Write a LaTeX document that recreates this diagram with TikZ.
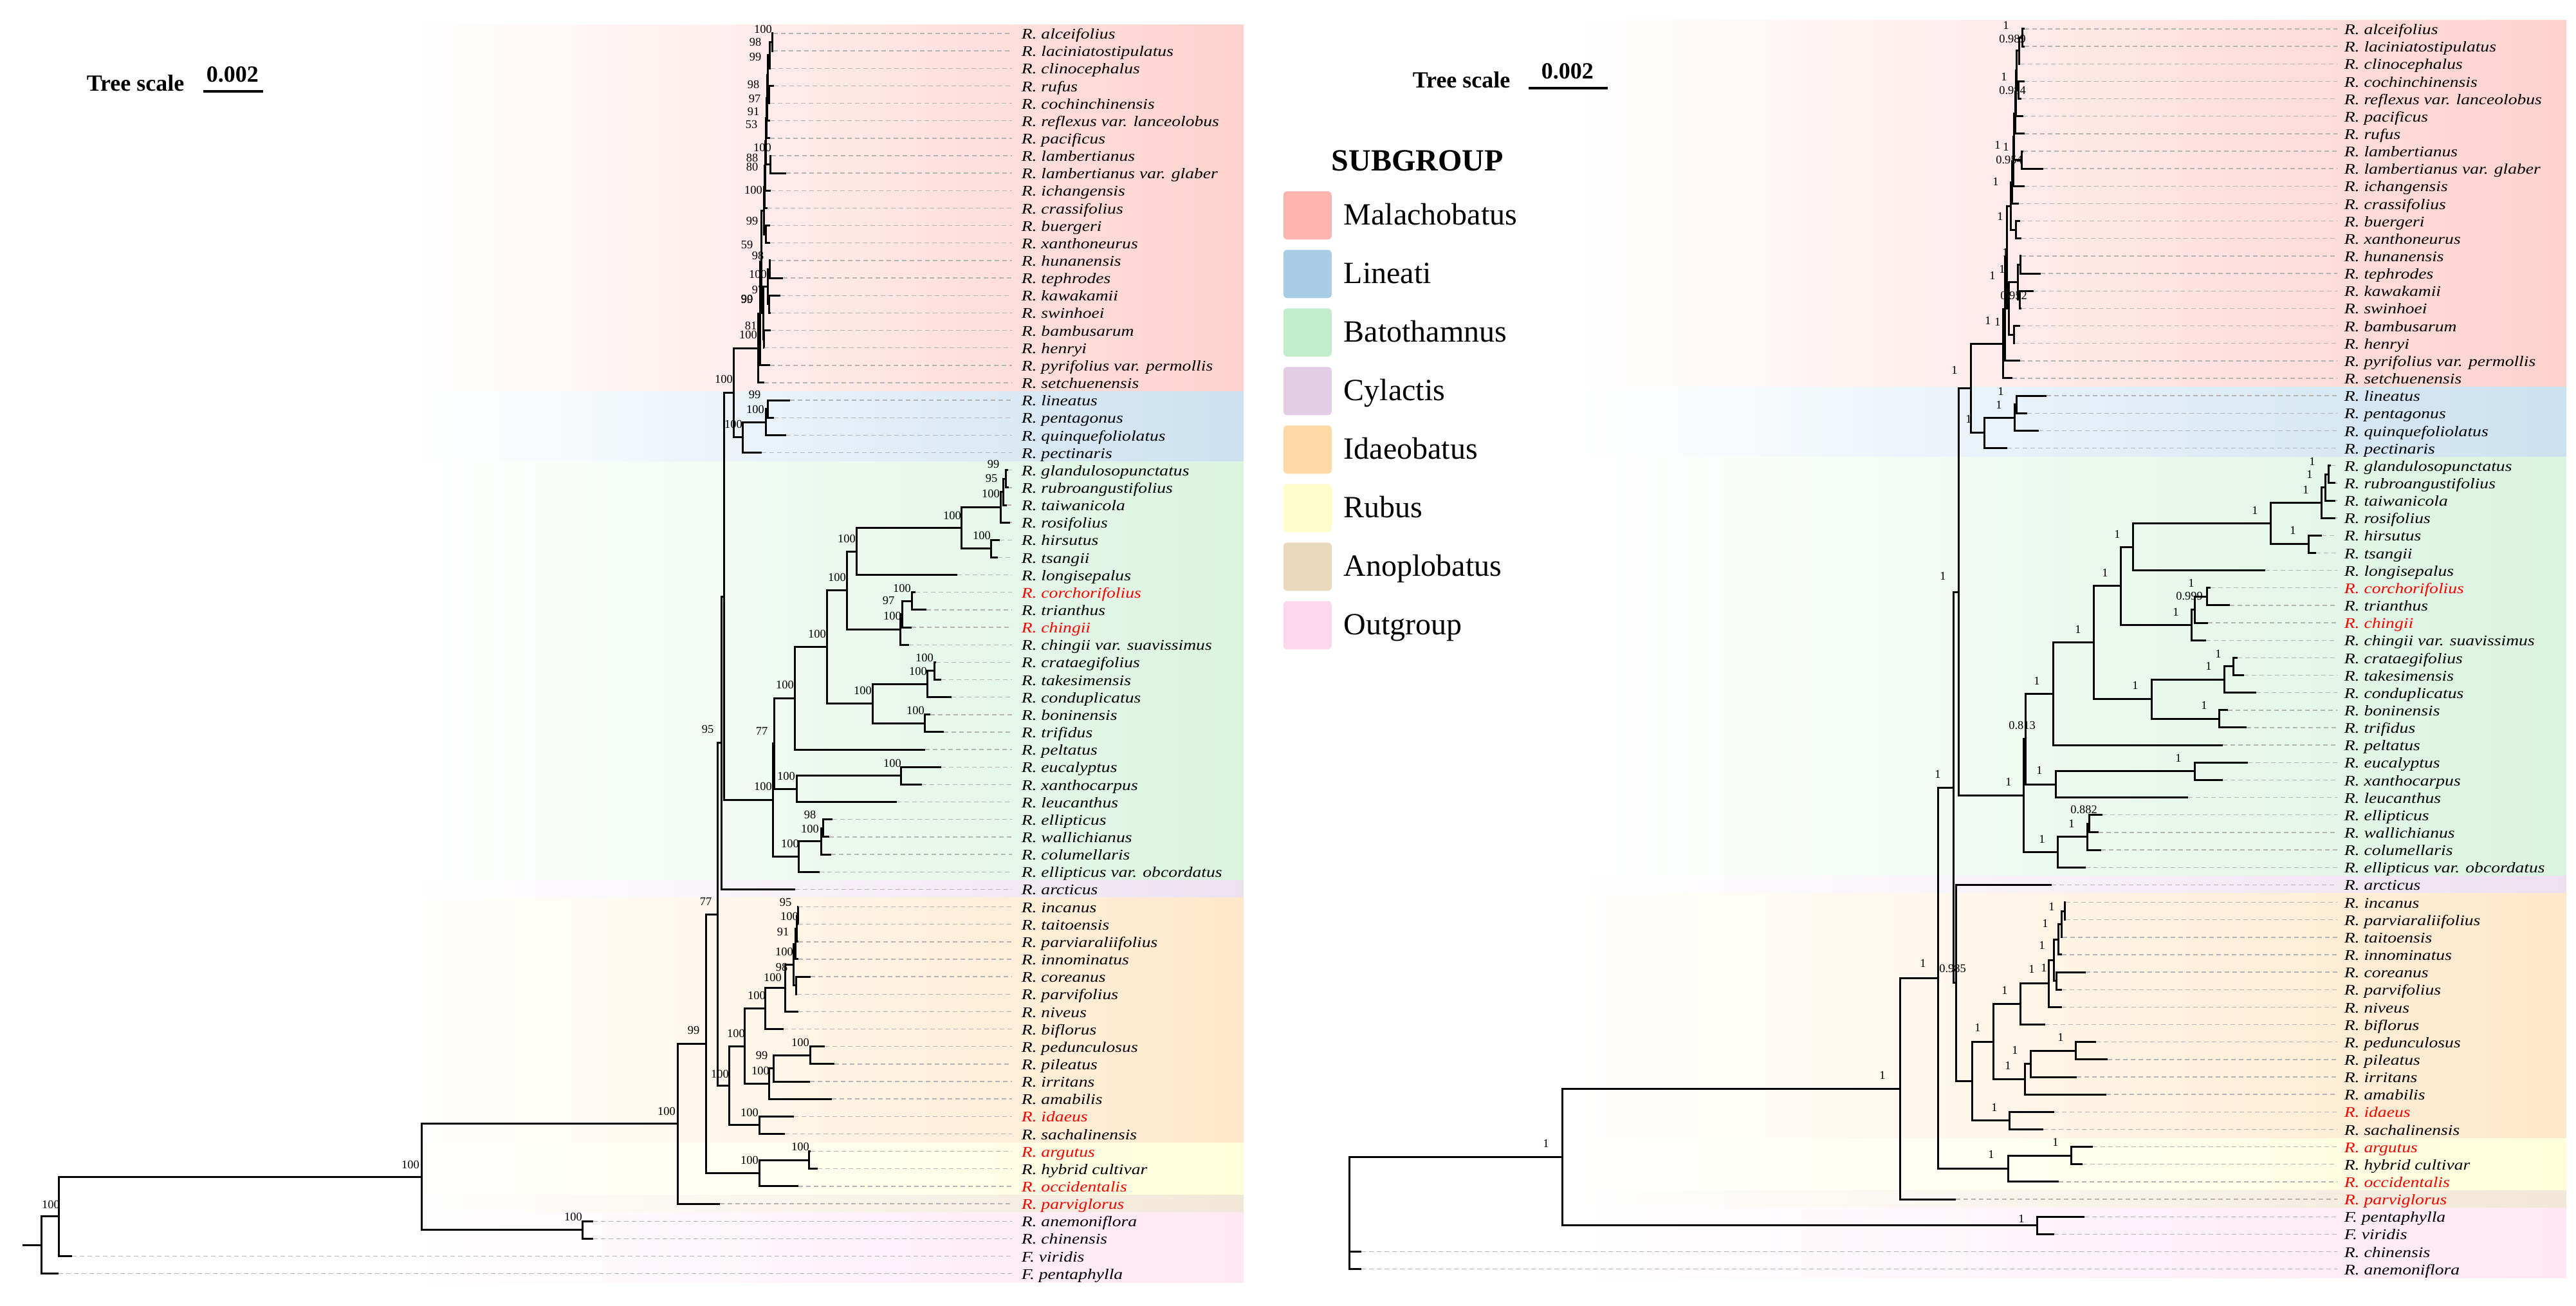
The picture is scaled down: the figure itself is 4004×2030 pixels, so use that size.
\documentclass[tikz,border=0pt]{standalone}
\usepackage{fontspec}
\setmainfont{Liberation Serif}
\newfontfamily\leaffont[FakeStretch=1.2]{Liberation Serif}
\usetikzlibrary{calc}
\definecolor{cMal}{HTML}{FDB4AE}
\definecolor{cLin}{HTML}{A9CDE5}
\definecolor{cBat}{HTML}{C2ECCB}
\definecolor{cCyl}{HTML}{E2CDE5}
\definecolor{cIda}{HTML}{FED8A7}
\definecolor{cRub}{HTML}{FFFDCB}
\definecolor{cAno}{HTML}{E9D8BC}
\definecolor{cOut}{HTML}{FDD7EB}
\colorlet{bMal}{cMal!60!white}
\colorlet{bLin}{cLin!60!white}
\colorlet{bBat}{cBat!60!white}
\colorlet{bCyl}{cCyl!60!white}
\colorlet{bIda}{cIda!60!white}
\colorlet{bRub}{cRub!70!white}
\colorlet{bAno}{cAno!60!white}
\colorlet{bOut}{cOut!60!white}
\definecolor{dashgray}{HTML}{B4B4B4}
\tikzset{
  br/.style={line width=0.75pt, draw=black},
  dl/.style={draw=dashgray, line width=0.35pt, dash pattern=on 1.75pt off 1.25pt},
  leafL/.style={anchor=west, inner xsep=3.5pt, inner ysep=0pt, font=\leaffont\itshape\fontsize{5.75}{6.5}\selectfont, text height=4.3pt, text depth=0pt},
  leafR/.style={leafL, inner xsep=2.5pt},
  bs/.style={inner sep=0pt, font=\fontsize{4.6}{5}\selectfont},
  legtext/.style={anchor=west, inner sep=0pt, font=\fontsize{12}{14}\selectfont, text height=7.9pt, text depth=0pt},
  scaletext/.style={anchor=base west, inner sep=0pt, font=\bfseries\fontsize{9}{10}\selectfont},
}
\newcommand\tnd[4]{%
  \coordinate (tmpc) at ($(#3)!0.5!(#4)$);
  \coordinate (#1) at (#2,0 |- tmpc);
  \draw[br] (#1) |- (#3) (#1) |- (#4);}
\newcommand\leafa[4]{%
  \coordinate (a#1) at (#2,#1);
  \node[leafL, text=#4] (ta#1) at (1573,#1) {#3};
  \draw[dl] (a#1) -- (ta#1);}
\newcommand\leafb[4]{%
  \coordinate (b#1) at (#2,#1);
  \node[leafR, text=#4] (tb#1) at (3633,#1) {#3};
  \draw[dl] (b#1) -- (tb#1);}
\begin{document}
\begin{tikzpicture}[x=0.25pt, y=-0.25pt]
\fill[white] (0,0) rectangle (4004,2030);
\useasboundingbox (0,0) rectangle (4004,2030);

%================ LEFT TREE =================
\begin{scope}[y=-6.7875pt, yshift=-6.2125pt]
\shade[left color=white, right color=bMal] (640,0.5) rectangle (1933,21.5);
\shade[left color=white, right color=bLin] (640,21.5) rectangle (1933,25.5);
\shade[left color=white, right color=bBat] (640,25.5) rectangle (1933,49.5);
\shade[left color=white, right color=bCyl] (640,49.5) rectangle (1933,50.5);
\shade[left color=white, right color=bIda] (640,50.5) rectangle (1933,64.5);
\shade[left color=white, right color=bRub] (640,64.5) rectangle (1933,67.5);
\shade[left color=white, right color=bAno] (640,67.5) rectangle (1933,68.5);
\shade[left color=white, right color=bOut] (640,68.5) rectangle (1933,72.5);

\leafa{1}{1202}{R. alceifolius}{black}
\leafa{2}{1202}{R. laciniatostipulatus}{black}
\leafa{3}{1198}{R. clinocephalus}{black}
\leafa{4}{1203}{R. rufus}{black}
\leafa{5}{1197}{R. cochinchinensis}{black}
\leafa{6}{1197}{R. reflexus var. lanceolobus}{black}
\leafa{7}{1197}{R. pacificus}{black}
\leafa{8}{1199}{R. lambertianus}{black}
\leafa{9}{1222}{R. lambertianus var. glaber}{black}
\leafa{10}{1198}{R. ichangensis}{black}
\leafa{11}{1193}{R. crassifolius}{black}
\leafa{12}{1197}{R. buergeri}{black}
\leafa{13}{1197}{R. xanthoneurus}{black}
\leafa{14}{1198}{R. hunanensis}{black}
\leafa{15}{1217}{R. tephrodes}{black}
\leafa{16}{1213}{R. kawakamii}{black}
\leafa{17}{1198}{R. swinhoei}{black}
\leafa{18}{1198}{R. bambusarum}{black}
\leafa{19}{1188}{R. henryi}{black}
\leafa{20}{1197}{R. pyrifolius var. permollis}{black}
\leafa{21}{1188}{R. setchuenensis}{black}
\leafa{22}{1228}{R. lineatus}{black}
\leafa{23}{1203}{R. pentagonus}{black}
\leafa{24}{1222}{R. quinquefoliolatus}{black}
\leafa{25}{1184}{R. pectinaris}{black}
\leafa{26}{1567}{R. glandulosopunctatus}{black}
\leafa{27}{1568}{R. rubroangustifolius}{black}
\leafa{28}{1565}{R. taiwanicola}{black}
\leafa{29}{1570}{R. rosifolius}{black}
\leafa{30}{1554}{R. hirsutus}{black}
\leafa{31}{1551}{R. tsangii}{black}
\leafa{32}{1488}{R. longisepalus}{black}
\leafa{33}{1423}{R. corchorifolius}{red}
\leafa{34}{1440}{R. trianthus}{black}
\leafa{35}{1417}{R. chingii}{red}
\leafa{36}{1413}{R. chingii var. suavissimus}{black}
\leafa{37}{1455}{R. crataegifolius}{black}
\leafa{38}{1463}{R. takesimensis}{black}
\leafa{39}{1479}{R. conduplicatus}{black}
\leafa{40}{1446}{R. boninensis}{black}
\leafa{41}{1467}{R. trifidus}{black}
\leafa{42}{1438}{R. peltatus}{black}
\leafa{43}{1463}{R. eucalyptus}{black}
\leafa{44}{1433}{R. xanthocarpus}{black}
\leafa{45}{1394}{R. leucanthus}{black}
\leafa{46}{1294}{R. ellipticus}{black}
\leafa{47}{1289}{R. wallichianus}{black}
\leafa{48}{1292}{R. columellaris}{black}
\leafa{49}{1274}{R. ellipticus var. obcordatus}{black}
\leafa{50}{1236}{R. arcticus}{black}
\leafa{51}{1241}{R. incanus}{black}
\leafa{52}{1241}{R. taitoensis}{black}
\leafa{53}{1241}{R. parviaraliifolius}{black}
\leafa{54}{1241}{R. innominatus}{black}
\leafa{55}{1260}{R. coreanus}{black}
\leafa{56}{1239}{R. parvifolius}{black}
\leafa{57}{1241}{R. niveus}{black}
\leafa{58}{1218}{R. biflorus}{black}
\leafa{59}{1282}{R. pedunculosus}{black}
\leafa{60}{1297}{R. pileatus}{black}
\leafa{61}{1259}{R. irritans}{black}
\leafa{62}{1293}{R. amabilis}{black}
\leafa{63}{1234}{R. idaeus}{red}
\leafa{64}{1220}{R. sachalinensis}{black}
\leafa{65}{1260}{R. argutus}{red}
\leafa{66}{1271}{R. hybrid cultivar}{black}
\leafa{67}{1241}{R. occidentalis}{red}
\leafa{68}{1119}{R. parviglorus}{red}
\leafa{69}{922}{R. anemoniflora}{black}
\leafa{70}{922}{R. chinensis}{black}
\leafa{71}{112}{F. viridis}{black}
\leafa{72}{91}{F. pentaphylla}{black}

% Malachobatus
\tnd{m12n}{1200}{a1}{a2}
\tnd{m123}{1196}{m12n}{a3}
\tnd{m45}{1195}{a4}{a5}
\tnd{m9}{1193}{m123}{m45}
\tnd{m8}{1192}{m9}{a6}
\tnd{m7}{1191}{m8}{a7}
\tnd{m89}{1197}{a8}{a9}
\tnd{m6}{1190}{m7}{m89}
\tnd{m5}{1189}{m6}{a10}
\tnd{m3x}{1188}{m5}{a11}
\tnd{m12}{1190}{a12}{a13}
\tnd{ma}{1187}{m3x}{m12}
\tnd{m14b}{1196}{a14}{a15}
\tnd{m16}{1195}{a16}{a17}
\tnd{m14}{1193}{m14b}{m16}
\tnd{m18}{1187}{a18}{a19}
\tnd{mb}{1186}{m14}{m18}
\tnd{mt}{1183}{ma}{mb}
\tnd{m1}{1181}{mt}{a20}
\tnd{m0}{1178}{m1}{a21}
% Lineati
\tnd{li3}{1193}{a22}{a23}
\tnd{li2}{1190}{li3}{a24}
\tnd{li1}{1154}{li2}{a25}
\tnd{lj}{1140}{m0}{li1}
% Batothamnus
\tnd{lbg3}{1563}{a26}{a27}
\tnd{lbg2}{1559}{lbg3}{a28}
\tnd{lbg}{1555}{lbg2}{a29}
\tnd{lbh}{1540}{a30}{a31}
\tnd{lba4}{1494}{lbg}{lbh}
\tnd{lba3}{1331}{lba4}{a32}
\tnd{lbch2}{1417}{a33}{a34}
\tnd{lbch1}{1402}{lbch2}{a35}
\tnd{lbch}{1399}{lbch1}{a36}
\tnd{lba2}{1316}{lba3}{lbch}
\tnd{lbc3}{1452}{a37}{a38}
\tnd{lbc1}{1441}{lbc3}{a39}
\tnd{lbc2}{1437}{a40}{a41}
\tnd{lbc}{1356}{lbc1}{lbc2}
\tnd{lba1}{1285}{lba2}{lbc}
\tnd{lba}{1235}{lba1}{a42}
\tnd{lbb1}{1400}{a43}{a44}
\tnd{lbb}{1238}{lbb1}{a45}
\tnd{lb1}{1203}{lba}{lbb}
\tnd{lbe2}{1279}{a46}{a47}
\tnd{lbe1}{1276}{lbe2}{a48}
\tnd{lbe}{1241}{lbe1}{a49}
\tnd{lb0}{1201}{lb1}{lbe}
\tnd{lnI}{1125}{lj}{lb0}
\tnd{lnH}{1121}{lnI}{a50}
% Idaeobatus
\tnd{ld10}{1240}{a51}{a52}
\tnd{ld9}{1238}{ld10}{a53}
\tnd{ld8}{1236}{ld9}{a54}
\tnd{ld56}{1237}{a55}{a56}
\tnd{ld7}{1233}{ld8}{ld56}
\tnd{ld6}{1220}{ld7}{a57}
\tnd{ld2}{1189}{ld6}{a58}
\tnd{ld5}{1259}{a59}{a60}
\tnd{ld4}{1202}{ld5}{a61}
\tnd{ld3}{1195}{ld4}{a62}
\tnd{ld1}{1157}{ld2}{ld3}
\tnd{ldi}{1180}{a63}{a64}
\tnd{ld0}{1133}{ld1}{ldi}
\tnd{lnF}{1115}{lnH}{ld0}
% Rubus and deeper
\tnd{lr2}{1257}{a65}{a66}
\tnd{lr1}{1180}{lr2}{a67}
\tnd{lnE}{1097}{lnF}{lr1}
\tnd{lnD}{1053}{lnE}{a68}
\tnd{lnC}{905}{a69}{a70}
\tnd{lnB}{655}{lnD}{lnC}
\tnd{lnA}{91}{lnB}{a71}
\tnd{lroot}{64}{lnA}{a72}
\coordinate (lstub) at ($(lroot)+(-29,0)$);
\draw[br] (lstub) -- (lroot);
\end{scope}

%================ RIGHT TREE =================
\begin{scope}[y=-6.7875pt, yshift=-4.4625pt]
\shade[left color=white, right color=bMal] (2450,0.5) rectangle (3989,21.5);
\shade[left color=white, right color=bLin] (2450,21.5) rectangle (3989,25.5);
\shade[left color=white, right color=bBat] (2450,25.5) rectangle (3989,49.5);
\shade[left color=white, right color=bCyl] (2450,49.5) rectangle (3989,50.5);
\shade[left color=white, right color=bIda] (2450,50.5) rectangle (3989,64.5);
\shade[left color=white, right color=bRub] (2450,64.5) rectangle (3989,67.5);
\shade[left color=white, right color=bAno] (2450,67.5) rectangle (3989,68.5);
\shade[left color=white, right color=bOut] (2450,68.5) rectangle (3989,72.5);

\leafb{1}{3147}{R. alceifolius}{black}
\leafb{2}{3147}{R. laciniatostipulatus}{black}
\leafb{3}{3140}{R. clinocephalus}{black}
\leafb{4}{3147}{R. cochinchinensis}{black}
\leafb{5}{3142}{R. reflexus var. lanceolobus}{black}
\leafb{6}{3145}{R. pacificus}{black}
\leafb{7}{3147}{R. rufus}{black}
\leafb{8}{3145}{R. lambertianus}{black}
\leafb{9}{3176}{R. lambertianus var. glaber}{black}
\leafb{10}{3147}{R. ichangensis}{black}
\leafb{11}{3138}{R. crassifolius}{black}
\leafb{12}{3140}{R. buergeri}{black}
\leafb{13}{3142}{R. xanthoneurus}{black}
\leafb{14}{3142}{R. hunanensis}{black}
\leafb{15}{3172}{R. tephrodes}{black}
\leafb{16}{3161}{R. kawakamii}{black}
\leafb{17}{3142}{R. swinhoei}{black}
\leafb{18}{3140}{R. bambusarum}{black}
\leafb{19}{3132}{R. henryi}{black}
\leafb{20}{3140}{R. pyrifolius var. permollis}{black}
\leafb{21}{3128}{R. setchuenensis}{black}
\leafb{22}{3181}{R. lineatus}{black}
\leafb{23}{3151}{R. pentagonus}{black}
\leafb{24}{3169}{R. quinquefoliolatus}{black}
\leafb{25}{3120}{R. pectinaris}{black}
\leafb{26}{3623}{R. glandulosopunctatus}{black}
\leafb{27}{3630}{R. rubroangustifolius}{black}
\leafb{28}{3630}{R. taiwanicola}{black}
\leafb{29}{3630}{R. rosifolius}{black}
\leafb{30}{3609}{R. hirsutus}{black}
\leafb{31}{3600}{R. tsangii}{black}
\leafb{32}{3521}{R. longisepalus}{black}
\leafb{33}{3436}{R. corchorifolius}{red}
\leafb{34}{3466}{R. trianthus}{black}
\leafb{35}{3432}{R. chingii}{red}
\leafb{36}{3429}{R. chingii var. suavissimus}{black}
\leafb{37}{3478}{R. crataegifolius}{black}
\leafb{38}{3488}{R. takesimensis}{black}
\leafb{39}{3507}{R. conduplicatus}{black}
\leafb{40}{3463}{R. boninensis}{black}
\leafb{41}{3492}{R. trifidus}{black}
\leafb{42}{3455}{R. peltatus}{black}
\leafb{43}{3494}{R. eucalyptus}{black}
\leafb{44}{3455}{R. xanthocarpus}{black}
\leafb{45}{3401}{R. leucanthus}{black}
\leafb{46}{3268}{R. ellipticus}{black}
\leafb{47}{3262}{R. wallichianus}{black}
\leafb{48}{3266}{R. columellaris}{black}
\leafb{49}{3242}{R. ellipticus var. obcordatus}{black}
\leafb{50}{3189}{R. arcticus}{black}
\leafb{51}{3211}{R. incanus}{black}
\leafb{52}{3211}{R. parviaraliifolius}{black}
\leafb{53}{3206}{R. taitoensis}{black}
\leafb{54}{3205}{R. innominatus}{black}
\leafb{55}{3242}{R. coreanus}{black}
\leafb{56}{3205}{R. parvifolius}{black}
\leafb{57}{3205}{R. niveus}{black}
\leafb{58}{3179}{R. biflorus}{black}
\leafb{59}{3258}{R. pedunculosus}{black}
\leafb{60}{3276}{R. pileatus}{black}
\leafb{61}{3228}{R. irritans}{black}
\leafb{62}{3274}{R. amabilis}{black}
\leafb{63}{3193}{R. idaeus}{red}
\leafb{64}{3176}{R. sachalinensis}{black}
\leafb{65}{3253}{R. argutus}{red}
\leafb{66}{3237}{R. hybrid cultivar}{black}
\leafb{67}{3200}{R. occidentalis}{red}
\leafb{68}{3040}{R. parviglorus}{red}
\leafb{69}{3240}{F. pentaphylla}{black}
\leafb{70}{3193}{F. viridis}{black}
\leafb{71}{2116}{R. chinensis}{black}
\leafb{72}{2116}{R. anemoniflora}{black}

% Malachobatus
\tnd{rm12n}{3143}{b1}{b2}
\tnd{rm123}{3138}{rm12n}{b3}
\tnd{rm45}{3137}{b4}{b5}
\tnd{rm9}{3134}{rm123}{rm45}
\tnd{rm8}{3133}{rm9}{b6}
\tnd{rm7}{3132}{rm8}{b7}
\tnd{rm89}{3142}{b8}{b9}
\tnd{rm6}{3130}{rm7}{rm89}
\tnd{rm5}{3129}{rm6}{b10}
\tnd{rm3x}{3127}{rm5}{b11}
\tnd{rm12}{3133}{b12}{b13}
\tnd{rma}{3125}{rm3x}{rm12}
\tnd{rm14b}{3140}{b14}{b15}
\tnd{rm16}{3139}{b16}{b17}
\tnd{rm14}{3136}{rm14b}{rm16}
\tnd{rm18}{3130}{b18}{b19}
\tnd{rmb}{3122}{rm14}{rm18}
\tnd{rmt}{3119}{rma}{rmb}
\tnd{rm1}{3116}{rmt}{b20}
\tnd{rm0}{3113}{rm1}{b21}
% Lineati
\tnd{rli3}{3134}{b22}{b23}
\tnd{rli2}{3131}{rli3}{b24}
\tnd{rli1}{3084}{rli2}{b25}
\tnd{rnJ}{3063}{rm0}{rli1}
% Batothamnus
\tnd{rbg3}{3619}{b26}{b27}
\tnd{rbg2}{3614}{rbg3}{b28}
\tnd{rbg}{3608}{rbg2}{b29}
\tnd{rbh}{3588}{b30}{b31}
\tnd{rba4}{3529}{rbg}{rbh}
\tnd{rba3}{3315}{rba4}{b32}
\tnd{rbch2}{3430}{b33}{b34}
\tnd{rbch1}{3411}{rbch2}{b35}
\tnd{rbch}{3406}{rbch1}{b36}
\tnd{rba2}{3296}{rba3}{rbch}
\tnd{rbc3}{3471}{b37}{b38}
\tnd{rbc1}{3457}{rbc3}{b39}
\tnd{rbc2}{3449}{b40}{b41}
\tnd{rbc}{3344}{rbc1}{rbc2}
\tnd{rba1}{3254}{rba2}{rbc}
\tnd{rba}{3191}{rba1}{b42}
\tnd{rbb1}{3411}{b43}{b44}
\tnd{rbb}{3195}{rbb1}{b45}
\tnd{rb1}{3148}{rba}{rbb}
\tnd{rbe2}{3247}{b46}{b47}
\tnd{rbe1}{3244}{rbe2}{b48}
\tnd{rbe}{3198}{rbe1}{b49}
\tnd{rb0}{3145}{rb1}{rbe}
\tnd{rnF}{3044}{rnJ}{rb0}
% Idaeobatus
\tnd{rd9}{3209}{b51}{b52}
\tnd{rd8}{3204}{rd9}{b53}
\tnd{rd7}{3199}{rd8}{b54}
\tnd{rd56}{3196}{b55}{b56}
\tnd{rd6}{3192}{rd7}{rd56}
\tnd{rd4}{3184}{rd6}{b57}
\tnd{rd2}{3140}{rd4}{b58}
\tnd{rd5}{3226}{b59}{b60}
\tnd{rd10}{3156}{rd5}{b61}
\tnd{rd3}{3147}{rd10}{b62}
\tnd{rd1}{3098}{rd2}{rd3}
\tnd{rds}{3123}{b63}{b64}
\tnd{rdI}{3065}{rd1}{rds}
\tnd{rnG}{3040}{b50}{rdI}
\tnd{rnE}{3036}{rnF}{rnG}
% Rubus and deeper
\tnd{rr2}{3219}{b65}{b66}
\tnd{rr1}{3121}{rr2}{b67}
\tnd{rnD}{3012}{rnE}{rr1}
\tnd{rnB}{2953}{rnD}{b68}
\tnd{rnC}{3166}{b69}{b70}
\tnd{rnA}{2428}{rnB}{rnC}
\tnd{rroot}{2097}{rnA}{b72}
\draw[br] (rroot) |- (b71);
\end{scope}

%================ SUPPORT LABELS =================
\foreach \x/\y/\v [count=\k] in {1186/45/100, 1174/65/98, 1174/89/99, 1171/131/98, 1173/154/97, 1171/174/91, 1168/194/53, 1185/229/100, 1169/245/88, 1169/259/80, 1171/295/100, 1169/344/99, 1161/381/59, 1178/397/98, 1178/426/100, 1178/451/97, 1161/464/90, 1161/466/99, 1167/506/81, 1163/520/100, 1125/589/100, 1173/614/99, 1174/636/100, 1140/659/100, 1544/722/99, 1541/744/95, 1540/767/100, 1480/801/100, 1526/832/100, 1316/837/100, 1301/897/100, 1402/914/100, 1381/934/97, 1387/957/100, 1270/985/100, 1437/1022/100, 1427/1043/100, 1220/1064/100, 1341/1073/100, 1423/1104/100, 1184/1136/77, 1100/1134/95, 1387/1186/100, 1222/1206/100, 1186/1222/100, 1259/1266/98, 1259/1288/100, 1228/1311/100, 1097/1401/77, 1221/1402/95, 1227/1424/100, 1217/1448/91, 1219/1479/100, 1201/1519/100, 1215/1503/98, 1176/1547/100, 1144/1606/100, 1244/1620/100, 1184/1640/99, 1182/1664/100, 1119/1669/100, 1165/1729/100, 1244/1782/100, 1165/1803/100, 1078/1601/99, 1036/1727/100, 638/1810/100, 891/1891/100, 79/1872/100}
  \node[bs] (bsl\k) at (\x,\y) {\v};

\foreach \x/\y/\v [count=\k] in {3118/39/1, 3128/61/0.989, 3115/119/1, 3128/141/0.984, 3105/225/1, 3118/228/1, 3123/249/0.954, 3102/282/1, 3109/336/1, 3117/392/1, 3097/428/1, 3112/418/1, 3130/460/0.952, 3090/498/1, 3105/500/1, 3038/575/1, 3110/608/1, 3107/629/1, 3060/651/1, 3020/895/1, 3012/1203/1, 3122/1215/1, 3594/717/1, 3590/737/1, 3584/761/1, 3505/793/1, 3564/824/1, 3291/830/1, 3272/890/1, 3406/906/1, 3403/927/0.999, 3382/951/1, 3230/978/1, 3448/1016/1, 3433/1035/1, 3166/1058/1, 3319/1065/1, 3426/1096/1, 3143/1128/0.813, 3386/1178/1, 3170/1197/1, 3239/1259/0.882, 3220/1280/1, 3174/1304/1, 3189/1409/1, 3179/1435/1, 3174/1469/1, 3158/1506/1, 3177/1504/1, 3035/1506/0.985, 3116/1539/1, 3074/1597/1, 3203/1612/1, 3132/1632/1, 3121/1656/1, 3100/1721/1, 3195/1775/1, 3095/1794/1, 2989/1497/1, 2926/1671/1, 2403/1777/1, 3142/1894/1}
  \node[bs] (bsr\k) at (\x,\y) {\v};

%================ TREE SCALES =================
\node[scaletext] (tsl) at (134,142) {Tree scale};
\node[scaletext] (tsnl) at (320,128) {0.002};
\coordinate (sbl1) at (316,142);
\coordinate (sbl2) at (409,142);
\draw[line width=1pt] (sbl1) -- (sbl2);
\node[scaletext] (tsr) at (2195,137) {Tree scale};
\node[scaletext] (tsnr) at (2395,123) {0.002};
\coordinate (sbr1) at (2376,137);
\coordinate (sbr2) at (2499,137);
\draw[line width=1pt] (sbr1) -- (sbr2);

%================ LEGEND =================
\node[inner sep=0pt, font=\bfseries\fontsize{12}{14}\selectfont] (legtitle) at (2203,250) {SUBGROUP};
\foreach \c/\n [count=\k from 0] in {cMal/Malachobatus, cLin/Lineati, cBat/Batothamnus, cCyl/Cylactis, cIda/Idaeobatus, cRub/Rubus, cAno/Anoplobatus, cOut/Outgroup}{
  \node[fill=\c, rounded corners=1.5pt, inner sep=0pt, minimum width=18.75pt, minimum height=18.75pt, anchor=north west] (sw\k) at (1994,{296.5+91*\k}) {};
  \node[legtext] (lg\k) at (2088,{334+91*\k}) {\n};
}
\end{tikzpicture}
\end{document}
